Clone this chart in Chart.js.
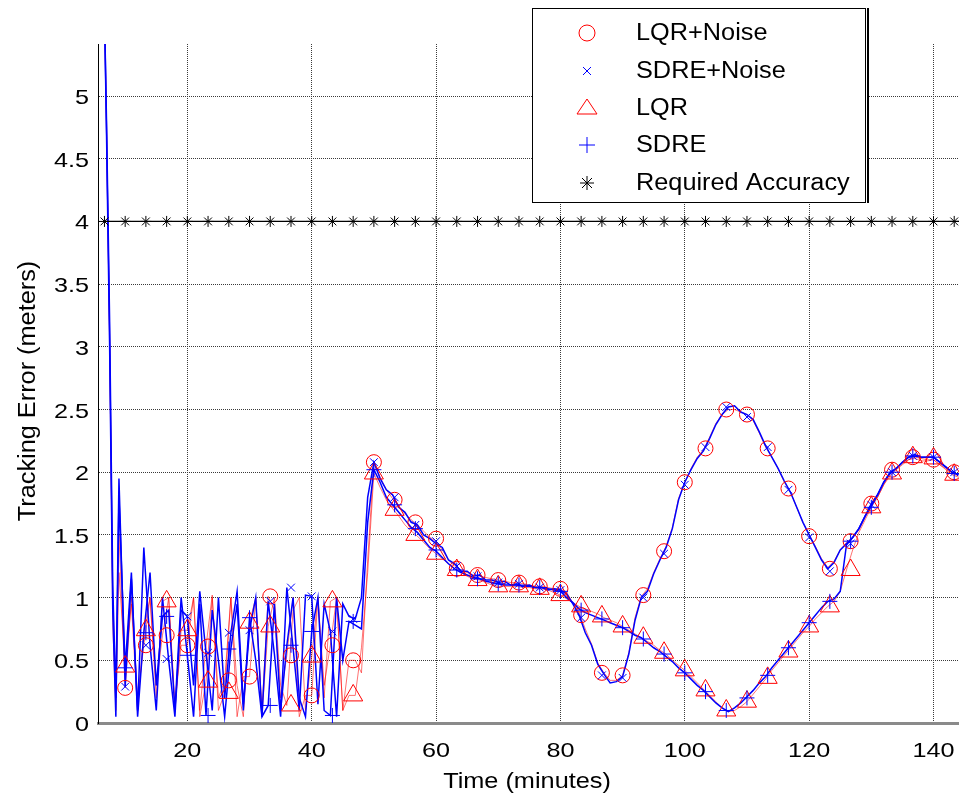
<!DOCTYPE html>
<html>
<head>
<meta charset="utf-8">
<script src="https://cdn.jsdelivr.net/npm/chart.js@4.4.0/dist/chart.umd.min.js"></script>
<style>
  html, body { margin: 0; padding: 0; background: #fff; }
  canvas { display: block; }
</style>
</head>
<body>
<canvas id="chart" width="959" height="797"></canvas>
<script>
// sample times of the tracking runs (minutes)
const timeMin = [6.7, 7, 7.5, 8, 8.5, 9,
  10, 11, 12, 13, 14, 15, 16, 17, 18, 19,
  20, 21, 22, 23, 24, 25, 26, 27, 28, 29,
  30, 31, 32, 33, 34, 35, 36, 37, 38, 39,
  40, 41, 42, 43, 44, 45, 46, 47, 48, 49,
  50, 51, 52, 53, 54, 55, 56, 57, 58, 59,
  60, 61, 62, 63, 64, 65, 66, 67, 68, 69,
  70, 71, 72, 73, 74, 75, 76, 77, 78, 79,
  80, 81, 82, 83, 84, 85, 86, 87, 88, 89,
  90, 91, 92, 93, 94, 95, 96, 97, 98, 99,
  100, 101, 102, 103, 104, 105, 106, 107, 108, 109,
  110, 111, 112, 113, 114, 115, 116, 117, 118, 119,
  120, 121, 122, 123, 124, 125, 126, 127, 128, 129,
  130, 131, 132, 133, 134, 135, 136, 137, 138, 139,
  140, 141, 142, 143, 144];

// tracking error (meters) per series
const lqrNoise = [5.6, 4.8, 3.1, 1.0, 0.3, 1.5,
  0.28, 1.0, 0.2, 0.62, 1.0, 0.3, 0.7, 1.0, 0.15, 0.62,
  0.62, 1.0, 0.1, 0.61, 1.02, 0.2, 0.34, 1.0, 0.05, 0.37,
  0.37, 1.0, 0.1, 1.01, 0.9, 0.2, 0.54, 1.0, 0.05, 0.22,
  0.22, 1.0, 0.3, 0.62, 1.0, 0.1, 0.5, 0.5, 0.4, 1.3,
  2.08, 1.96, 1.86, 1.79, 1.73, 1.67, 1.62, 1.58, 1.53, 1.48,
  1.45, 1.38, 1.30, 1.25, 1.21, 1.20, 1.18, 1.17, 1.16, 1.15,
  1.14, 1.13, 1.12, 1.12, 1.11, 1.10, 1.09, 1.09, 1.08, 1.07,
  1.07, 1.04, 0.96, 0.88, 0.75, 0.63, 0.48, 0.40, 0.34, 0.34,
  0.38, 0.56, 0.84, 1.01, 1.07, 1.20, 1.31, 1.41, 1.56, 1.79,
  1.92, 2.03, 2.12, 2.18, 2.28, 2.39, 2.46, 2.50, 2.50, 2.48,
  2.46, 2.41, 2.31, 2.20, 2.12, 2.03, 1.92, 1.84, 1.72, 1.60,
  1.50, 1.41, 1.31, 1.24, 1.29, 1.38, 1.44, 1.48, 1.54, 1.64,
  1.74, 1.80, 1.90, 1.99, 2.03, 2.07, 2.10, 2.11, 2.09, 2.09,
  2.10, 2.06, 2.03, 1.99, 1.97];

const sdreNoise = [5.6, 4.8, 3.2, 1.1, 0.2, 1.95,
  0.29, 1.15, 0.1, 1.4, 0.62, 0.1, 1.0, 0.5, 0.05, 0.9,
  0.85, 0.3, 1.05, 0.56, 0.1, 1.0, 0.2, 0.72, 1.05, 0.15,
  0.74, 1.0, 0.05, 0.97, 0.55, 0.05, 1.08, 0.6, 0.1, 1.02,
  1.01, 0.15, 0.95, 0.73, 0.05, 0.95, 0.85, 0.83, 1.0, 1.8,
  2.08, 1.95, 1.86, 1.82, 1.72, 1.68, 1.60, 1.58, 1.50, 1.47,
  1.43, 1.40, 1.30, 1.27, 1.21, 1.21, 1.17, 1.18, 1.14, 1.14,
  1.12, 1.13, 1.10, 1.11, 1.09, 1.10, 1.08, 1.08, 1.06, 1.07,
  1.06, 1.03, 0.95, 0.86, 0.72, 0.62, 0.47, 0.39, 0.32, 0.33,
  0.37, 0.55, 0.82, 1.00, 1.05, 1.19, 1.30, 1.40, 1.55, 1.78,
  1.92, 2.02, 2.11, 2.17, 2.27, 2.38, 2.46, 2.52, 2.53, 2.48,
  2.46, 2.42, 2.32, 2.21, 2.12, 2.03, 1.93, 1.84, 1.72, 1.60,
  1.50, 1.40, 1.30, 1.23, 1.28, 1.38, 1.43, 1.48, 1.55, 1.65,
  1.75, 1.82, 1.92, 2.00, 2.03, 2.08, 2.12, 2.14, 2.12, 2.12,
  2.12, 2.08, 2.04, 2.00, 1.98];

const lqr = [5.6, 4.7, 3.0, 0.8, 0.1, 1.2,
  0.45, 0.95, 0.1, 0.74, 1.0, 0.2, 0.97, 1.0, 0.1, 0.74,
  0.74, 1.0, 0.05, 0.33, 1.0, 0.1, 0.24, 1.0, 0.3, 0.05,
  0.80, 1.0, 0.05, 0.77, 1.0, 0.3, 0.14, 0.9, 1.0, 0.1,
  0.53, 1.0, 0.2, 0.97, 1.0, 0.1, 0.22, 0.22, 0.6, 1.2,
  1.99, 1.88, 1.78, 1.71, 1.65, 1.58, 1.53, 1.49, 1.44, 1.39,
  1.35, 1.31, 1.27, 1.23, 1.20, 1.17, 1.15, 1.14, 1.12, 1.10,
  1.09, 1.09, 1.09, 1.09, 1.08, 1.08, 1.07, 1.07, 1.06, 1.04,
  1.02, 0.99, 0.96, 0.93, 0.91, 0.89, 0.87, 0.84, 0.82, 0.80,
  0.77, 0.74, 0.71, 0.68, 0.65, 0.62, 0.58, 0.55, 0.50, 0.46,
  0.42, 0.37, 0.32, 0.27, 0.22, 0.17, 0.12, 0.09, 0.10, 0.13,
  0.17, 0.23, 0.29, 0.35, 0.42, 0.48, 0.54, 0.60, 0.66, 0.72,
  0.77, 0.83, 0.88, 0.93, 0.97, 1.05, 1.22, 1.38, 1.52, 1.62,
  1.72, 1.80, 1.90, 1.97, 2.02, 2.06, 2.10, 2.12, 2.11, 2.10,
  2.10, 2.06, 2.02, 1.98, 1.96];

const sdre = [5.6, 4.7, 3.0, 0.9, 0.05, 1.8,
  0.44, 1.2, 0.05, 0.72, 1.2, 0.3, 0.85, 0.9, 0.1, 1.0,
  0.54, 0.05, 0.95, 0.06, 0.9, 0.5, 0.05, 0.59, 0.95, 0.1,
  0.84, 0.5, 0.05, 0.14, 0.95, 0.1, 0.62, 1.0, 0.2, 0.05,
  0.73, 1.0, 0.1, 0.06, 1.0, 0.5, 0.81, 0.78, 0.75, 1.6,
  2.02, 1.92, 1.80, 1.74, 1.68, 1.62, 1.56, 1.52, 1.46, 1.40,
  1.37, 1.32, 1.27, 1.23, 1.20, 1.18, 1.16, 1.15, 1.13, 1.12,
  1.11, 1.10, 1.10, 1.10, 1.09, 1.09, 1.08, 1.08, 1.07, 1.06,
  1.05, 1.00, 0.96, 0.91, 0.88, 0.86, 0.84, 0.82, 0.80, 0.78,
  0.76, 0.73, 0.70, 0.68, 0.64, 0.60, 0.57, 0.53, 0.49, 0.44,
  0.40, 0.35, 0.30, 0.26, 0.21, 0.16, 0.12, 0.09, 0.12, 0.16,
  0.21, 0.26, 0.32, 0.37, 0.44, 0.50, 0.56, 0.62, 0.68, 0.74,
  0.80, 0.86, 0.92, 0.97, 0.99, 1.05, 1.42, 1.48, 1.55, 1.65,
  1.73, 1.82, 1.92, 1.99, 2.03, 2.08, 2.12, 2.13, 2.12, 2.12,
  2.12, 2.08, 2.04, 2.00, 1.98];

// marker positions (every 10/3 minutes)
const markerTimes = [10, 13.33, 16.67, 20, 23.33, 26.67, 30, 33.33, 36.67, 40,
  43.33, 46.67, 50, 53.33, 56.67, 60, 63.33, 66.67, 70, 73.33,
  76.67, 80, 83.33, 86.67, 90, 93.33, 96.67, 100, 103.33, 106.67,
  110, 113.33, 116.67, 120, 123.33, 126.67, 130, 133.33, 136.67, 140,
  143.33];
const lqrNoiseMarks = [0.28, 0.62, 0.70, 0.62, 0.61, 0.34, 0.37, 1.01, 0.54, 0.22,
  0.62, 0.50, 2.08, 1.78, 1.60, 1.47, 1.23, 1.18, 1.14, 1.12,
  1.09, 1.07, 0.86, 0.40, 0.38, 1.02, 1.37, 1.92, 2.19, 2.50,
  2.46, 2.19, 1.87, 1.49, 1.23, 1.45, 1.75, 2.02, 2.12, 2.10,
  2.00];
const sdreNoiseMarks = [0.29, 0.62, 0.51, 0.85, 0.56, 0.72, 0.74, 0.97, 1.08, 1.01,
  0.73, 0.83, 2.08, 1.80, 1.58, 1.45, 1.25, 1.17, 1.12, 1.11,
  1.08, 1.06, 0.84, 0.38, 0.36, 1.00, 1.35, 1.90, 2.20, 2.52,
  2.44, 2.20, 1.86, 1.48, 1.21, 1.43, 1.74, 2.00, 2.13, 2.12,
  2.00];
const lqrMarks = [0.45, 0.74, 0.97, 0.74, 0.33, 0.24, 0.80, 0.77, 0.14, 0.53,
  0.97, 0.22, 1.99, 1.70, 1.50, 1.35, 1.22, 1.14, 1.09, 1.09,
  1.07, 1.02, 0.93, 0.85, 0.77, 0.68, 0.56, 0.42, 0.26, 0.10,
  0.17, 0.36, 0.57, 0.77, 0.93, 1.22, 1.72, 1.99, 2.12, 2.11,
  1.98];
const sdreMarks = [0.44, 0.72, 0.85, 0.54, 0.06, 0.59, 0.84, 0.14, 0.62, 0.73,
  0.06, 0.81, 2.02, 1.74, 1.55, 1.38, 1.22, 1.15, 1.11, 1.10,
  1.08, 1.05, 0.90, 0.83, 0.76, 0.67, 0.55, 0.40, 0.25, 0.10,
  0.20, 0.38, 0.60, 0.80, 0.97, 1.45, 1.72, 2.00, 2.13, 2.12,
  1.99];

const accuracyLevel = 4;
const accuracyStars = [6.67, 10, 13.33, 16.67, 20, 23.33, 26.67, 30, 33.33, 36.67, 40,
  43.33, 46.67, 50, 53.33, 56.67, 60, 63.33, 66.67, 70, 73.33,
  76.67, 80, 83.33, 86.67, 90, 93.33, 96.67, 100, 103.33, 106.67,
  110, 113.33, 116.67, 120, 123.33, 126.67, 130, 133.33, 136.67, 140,
  143.33];

const seriesNames = ['LQR+Noise', 'SDRE+Noise', 'LQR', 'SDRE', 'Required Accuracy'];
const xTicks = [20, 40, 60, 80, 100, 120, 140];
const yTicks = [0, 0.5, 1, 1.5, 2, 2.5, 3, 3.5, 4, 4.5, 5];

const RED = '#ff0000';
const BLUE = '#0000ff';
const PINK = 'rgba(255,0,0,0.55)';
const FONT = "'Liberation Sans', Arial, sans-serif";

function pts(xs, ys) {
  return xs.map((x, i) => ({ x: x, y: ys[i] }));
}

function lineSet(label, ys, color, width, order) {
  return {
    label: label, data: pts(timeMin, ys),
    borderColor: color, borderWidth: width,
    pointRadius: 0, tension: 0, fill: false, order: order
  };
}

function markSet(label, xs, ys, style, radius, color, order) {
  return {
    label: label, data: pts(xs, ys), showLine: false,
    pointStyle: style, pointRadius: radius,
    pointBorderColor: color, pointBackgroundColor: 'rgba(0,0,0,0)',
    pointBorderWidth: 1, order: order
  };
}

// text a bit wider than the font, like the original export
function wideText(ctx, text, x, y, align, sx) {
  ctx.save();
  ctx.translate(x, y);
  ctx.scale(sx, 1);
  ctx.textAlign = align;
  ctx.fillText(text, 0, 0);
  ctx.restore();
}

// white page, tick labels, axis titles and the legend box
const paperPlugin = {
  id: 'paper',
  beforeDraw(chart) {
    const ctx = chart.ctx;
    ctx.save();
    ctx.fillStyle = '#fff';
    ctx.fillRect(0, 0, chart.width, chart.height);
    ctx.restore();
  },
  afterDraw(chart) {
    const ctx = chart.ctx;
    const xs = chart.scales.x, ys = chart.scales.y;
    ctx.save();
    ctx.fillStyle = '#000';
    ctx.textBaseline = 'alphabetic';
    ctx.font = '21px ' + FONT;
    xTicks.forEach(v => wideText(ctx, String(v), xs.getPixelForValue(v), 757, 'center', 1.2));
    yTicks.forEach(v => wideText(ctx, String(v), 89, ys.getPixelForValue(v) + 8, 'right', 1.2));

    ctx.font = '22px ' + FONT;
    wideText(ctx, 'Time (minutes)', 527, 788, 'center', 1.15);
    ctx.font = '23px ' + FONT;
    ctx.translate(35, 391);
    ctx.rotate(-Math.PI / 2);
    wideText(ctx, 'Tracking Error (meters)', 0, 0, 'center', 1.1);
    ctx.restore();

    // legend
    ctx.save();
    const bx = 532, by = 8, bw = 333, bh = 194;
    ctx.fillStyle = '#fff';
    ctx.fillRect(bx, by, bw, bh);
    ctx.strokeStyle = '#000';
    ctx.lineWidth = 1;
    ctx.strokeRect(bx + 0.5, by + 0.5, bw, bh);
    ctx.lineWidth = 2;
    ctx.beginPath();
    ctx.moveTo(bx + bw + 3, by);
    ctx.lineTo(bx + bw + 3, by + bh + 1);
    ctx.stroke();

    const rows = [33, 71, 108, 145, 183];
    const mx = 587;
    ctx.lineWidth = 1;
    // circle
    ctx.strokeStyle = RED;
    ctx.beginPath();
    ctx.arc(mx, rows[0], 8, 0, Math.PI * 2);
    ctx.stroke();
    // x
    ctx.strokeStyle = BLUE;
    ctx.beginPath();
    ctx.moveTo(mx - 4, rows[1] - 4); ctx.lineTo(mx + 4, rows[1] + 4);
    ctx.moveTo(mx - 4, rows[1] + 4); ctx.lineTo(mx + 4, rows[1] - 4);
    ctx.stroke();
    // triangle
    ctx.strokeStyle = RED;
    ctx.beginPath();
    ctx.moveTo(mx, rows[2] - 9);
    ctx.lineTo(mx + 10, rows[2] + 6);
    ctx.lineTo(mx - 10, rows[2] + 6);
    ctx.closePath();
    ctx.stroke();
    // plus
    ctx.strokeStyle = BLUE;
    ctx.beginPath();
    ctx.moveTo(mx - 8, rows[3]); ctx.lineTo(mx + 8, rows[3]);
    ctx.moveTo(mx, rows[3] - 8); ctx.lineTo(mx, rows[3] + 8);
    ctx.stroke();
    // star
    ctx.strokeStyle = '#000';
    ctx.beginPath();
    ctx.moveTo(mx - 7, rows[4]); ctx.lineTo(mx + 7, rows[4]);
    ctx.moveTo(mx, rows[4] - 7); ctx.lineTo(mx, rows[4] + 7);
    ctx.moveTo(mx - 5, rows[4] - 5); ctx.lineTo(mx + 5, rows[4] + 5);
    ctx.moveTo(mx - 5, rows[4] + 5); ctx.lineTo(mx + 5, rows[4] - 5);
    ctx.stroke();

    ctx.fillStyle = '#000';
    ctx.font = '23px ' + FONT;
    ctx.textBaseline = 'middle';
    seriesNames.forEach((name, i) => wideText(ctx, name, 636, rows[i] + 1, 'left', 1.1));
    ctx.restore();
  }
};

new Chart(document.getElementById('chart'), {
  type: 'line',
  data: {
    datasets: [
      lineSet(seriesNames[0], lqrNoise, PINK, 1, 21),
      lineSet(seriesNames[2], lqr, PINK, 1, 20),
      lineSet(seriesNames[1], sdreNoise, BLUE, 1.5, 11),
      lineSet(seriesNames[3], sdre, BLUE, 1.5, 10),
      {
        label: seriesNames[4], data: [{ x: 6.67, y: accuracyLevel }, { x: 144.1, y: accuracyLevel }],
        borderColor: '#000', borderWidth: 1.2, pointRadius: 0, order: 9
      },
      markSet(seriesNames[4], accuracyStars, accuracyStars.map(() => accuracyLevel), 'star', 5.5, '#000', 4),
      markSet(seriesNames[0], markerTimes, lqrNoiseMarks, 'circle', 7.5, RED, 3),
      markSet(seriesNames[2], markerTimes, lqrMarks, 'triangle', 11, RED, 2),
      markSet(seriesNames[1], markerTimes, sdreNoiseMarks, 'crossRot', 5.5, BLUE, 1),
      markSet(seriesNames[3], markerTimes, sdreMarks, 'cross', 7.5, BLUE, 0)
    ]
  },
  options: {
    responsive: false,
    animation: false,
    layout: { autoPadding: false, padding: { top: 44, left: 0, right: 0, bottom: 0 } },
    plugins: { legend: { display: false }, tooltip: { enabled: false } },
    scales: {
      x: {
        type: 'linear', min: 5.63, max: 144.1,
        afterBuildTicks: s => { s.ticks = xTicks.map(v => ({ value: v })); },
        afterFit: s => { s.height = 74; },
        grid: { color: '#3a3a3a', lineWidth: 1, drawTicks: false },
        border: { color: '#8a8a8a', width: 3, dash: [1, 1] },
        ticks: { display: false }
      },
      y: {
        type: 'linear', min: 0, max: 5.415,
        afterBuildTicks: s => { s.ticks = yTicks.map(v => ({ value: v })); },
        afterFit: s => { s.width = 98; },
        grid: { color: '#3a3a3a', lineWidth: 1, drawTicks: false },
        border: { color: '#000', width: 1, dash: [1, 1] },
        ticks: { display: false }
      }
    }
  },
  plugins: [paperPlugin]
});
</script>
</body>
</html>
